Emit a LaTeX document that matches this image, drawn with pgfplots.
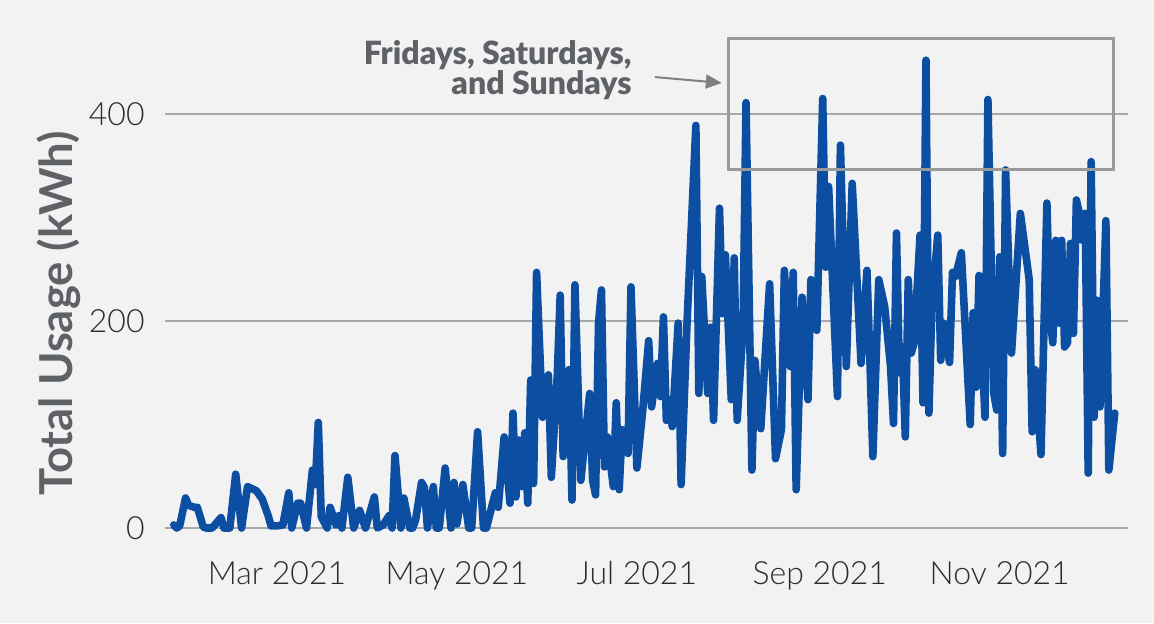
\documentclass[border=0pt]{standalone}
\usepackage{fontspec}
\setmainfont{Lato}
\newfontfamily\latolight{Lato Light}
\newfontfamily\latoblack{Lato Black}
\usepackage{pgfplots}
\pgfplotsset{compat=1.18}
\usetikzlibrary{arrows.meta}

\definecolor{bg}{HTML}{F2F2F2}
\definecolor{usage}{HTML}{0B4EA2}
\definecolor{gridgray}{HTML}{A8A8A8}
\definecolor{labelgray}{HTML}{5E6166}
\definecolor{boxgray}{HTML}{9A9A9A}
\definecolor{tickgray}{HTML}{2B2B2B}

\begin{document}
\begin{tikzpicture}
% background panel (1 px of the reference = 0.5pt)
\fill[bg] (-82.5pt,-37.15pt) rectangle (494.5pt,274.35pt);
\begin{axis}[
    at={(0,0)}, anchor=south west,
    scale only axis,
    width=481.5pt, height=258.75pt,
    xmin=22.03, xmax=348.5,
    ymin=-20, ymax=480,
    clip=false,
    axis line style={draw=none},
    tick style={draw=none},
    ytick={0,200,400},
    xtick={60,121,182,244,305},
    xticklabels={Mar 2021, May 2021, Jul 2021, Sep 2021, Nov 2021},
    ymajorgrids,
    grid style={gridgray, line width=1pt},
    /pgf/number format/assume math mode=true,
    ticklabel style={font=\latolight\fontsize{16pt}{18pt}\selectfont, text=tickgray},
    yticklabel style={anchor=east, inner sep=0pt, xshift=-10pt},
    xticklabel style={anchor=north, inner sep=0pt, yshift=-6pt},
    ylabel={Total Usage (kWh)},
    every axis y label/.style={at={(axis description cs:-0.11,0.455)},
        rotate=90, anchor=center,
        font=\bfseries\fontsize{22.7pt}{24pt}\selectfont, text=labelgray},
]
% daily total usage, day of year 2021
\addplot[usage, line width=3.8pt, line join=round, line cap=round] coordinates {
(25,3)(26,0)(27,2)(29,29)(30,22)(32,20)(33,20)(35,1)(36,0)(38,0)(41,10)(42,0)
(44,0)(46,52)(48,0)(50,40)(53,36)(55,28)(57,12)(58,2)(60,2)(62,3)(64,34)(65,0)
(67,24)(68,24)(70,0)(72,56)(73,42)(74,102)(75,11)(77,0)(78,20)(80,3)(81,12)(82,0)
(84,49)(86,0)(88,17)(90,0)(93,30)(94,0)(96,3)(98,12)(99,0)(100,70)(102,0)(103,29)
(105,0)(106,0)(107,8)(109,44)(110,39)(111,0)(113,40)(114,0)(115,0)(117,58)(119,0)
(120,44)(121,4)(123,42)(125,0)(126,0)(128,93)(130,0)(131,0)(134,34)(135,20)(137,88)
(139,24)(140,111)(141,30)(142,85)(143,40)(144,92)(145,24)(146,143)(147,43)(148,247)
(150,107)(152,148)(153,49)(155,146)(156,225)(157,69)(159,153)(160,27)(161,235)
(163,46)(166,130)(167,46)(168,32)(169,198)(170,230)(171,59)(172,88)(174,40)(175,121)
(176,37)(177,95)(179,72)(180,233)(182,58)(184,114)(186,181)(187,117)(189,159)
(190,127)(191,204)(192,104)(193,124)(194,98)(196,198)(197,42)(199,198)(202,389)
(203,130)(204,243)(206,130)(207,194)(208,104)(210,309)(211,207)(212,264)(214,124)
(215,261)(216,104)(218,194)(219,411)(221,56)(222,162)(224,96)(227,236)(229,67)
(231,95)(232,249)(234,156)(235,247)(236,37)(238,223)(240,124)(241,240)(243,191)
(245,415)(246,252)(247,330)(250,127)(251,370)(253,156)(255,333)(258,159)(260,249)
(261,162)(262,69)(264,240)(266,214)(268,156)(269,101)(270,285)(271,150)(272,175)
(273,88)(274,240)(275,169)(276,179)(278,283)(279,121)(280,452)(281,111)(282,214)
(284,283)(285,162)(286,198)(288,160)(289,247)(290,243)(292,266)(293,211)(295,100)
(296,208)(297,136)(298,244)(300,107)(301,414)(303,130)(304,114)(305,262)(306,72)
(307,346)(309,169)(312,304)(315,240)(316,93)(317,153)(319,71)(321,314)(322,208)
(323,179)(324,278)(325,198)(326,278)(327,175)(328,179)(329,275)(330,188)(331,317)
(332,304)(333,278)(334,304)(335,53)(336,354)(337,107)(338,220)(339,117)(341,297)
(342,56)(344,111)
};
% weekend annotation
\draw[boxgray, line width=1.5pt] (axis cs:212.9,346) rectangle (axis cs:343.7,473);
\draw[gray, line width=1pt, -{Triangle[length=8pt,width=7pt]}]
    (axis cs:188.1,435.7) -- (axis cs:210.8,430);
\node[anchor=north east, inner sep=0pt, align=right, text=labelgray,
      font=\latoblack\fontsize{16pt}{15pt}\selectfont]
    at (axis cs:180.3,471) {Fridays, Saturdays,\\and Sundays};
\end{axis}
\end{tikzpicture}
\end{document}
